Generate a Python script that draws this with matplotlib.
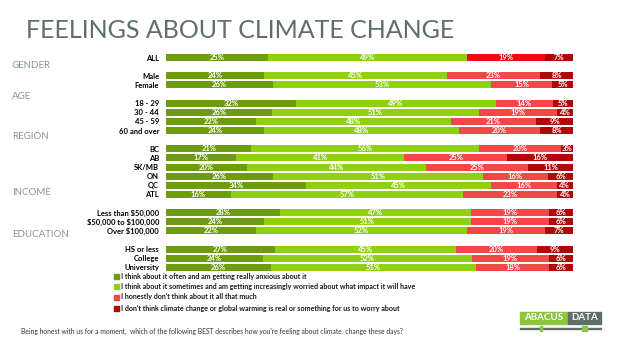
import matplotlib
matplotlib.use("Agg")
import matplotlib.pyplot as plt
from matplotlib.patches import Rectangle
import numpy as np

categories = ["ALL", "Male", "Female", "18 - 29", "30 - 44", "45 - 59", "60 and over",
              "BC", "AB", "SK/MB", "ON", "QC", "ATL",
              "Less than \\$50,000", "\\$50,000 to \\$100,000", "Over \\$100,000",
              "HS or less", "College", "University"]
positions = [0, 2, 3, 5, 6, 7, 8, 10, 11, 12, 13, 14, 15, 17, 18, 19, 21, 22, 23]
anxious = [25, 24, 26, 32, 26, 22, 24, 21, 17, 20, 26, 34, 16, 28, 24, 22, 27, 24, 26]
worried = [49, 45, 53, 49, 51, 48, 48, 56, 41, 44, 51, 45, 57, 47, 51, 52, 45, 52, 51]
not_much = [19, 23, 15, 14, 19, 21, 20, 20, 25, 25, 16, 16, 23, 19, 19, 19, 20, 19, 18]
not_real = [7, 8, 5, 5, 4, 9, 8, 3, 16, 11, 6, 4, 4, 6, 6, 7, 9, 6, 6]
groups = ["GENDER", "AGE", "REGION", "INCOME", "EDUCATION"]
group_pos = [0.9, 4.3, 8.7, 14.8, 19.4]
legend_labels = [
    "I think about it often and am getting really anxious about it",
    "I think about it sometimes and am getting increasingly worried about what impact it will have",
    "I honestly don't think about it all that much",
    "I don't think climate change or global warming is real or something for us to worry about",
]
title = "FEELINGS ABOUT CLIMATE CHANGE"
question = ("Being honest with us for a moment,  which of the following BEST describes how you're feeling about climate  change these days?")

colors = ["#6e9c10", "#8fd010", "#f44848", "#b00808"]
all_colors = ["#6e9c10", "#8fd010", "#ee0c0c", "#b00808"]

fig = plt.figure(figsize=(6.24, 3.51), dpi=100)
W, H = 624, 351
ax = fig.add_axes([166 / W, 1 - 272 / H, 407 / W, 219 / H])
series = [anxious, worried, not_much, not_real]
data = np.array(series, dtype=float)
totals = data.sum(axis=0)
norm = data / totals * 100
left = np.zeros(len(categories))
for k in range(4):
    cols = [all_colors[k] if c == "ALL" else colors[k] for c in categories]
    ax.barh(positions, norm[k], left=left, height=0.78, color=cols, edgecolor="none")
    for i, p in enumerate(positions):
        ax.text(left[i] + norm[k][i] / 2, p, f"{series[k][i]}%", ha="center", va="center",
                color="white", fontsize=5.5, family="Lato", fontweight="bold")
    left += norm[k]
ax.set_xlim(0, 100)
ax.set_ylim(23.5, -0.5)
ax.set_yticks(positions)
ax.set_yticklabels(categories, fontsize=5.5, fontweight="bold", family="Lato")
ax.tick_params(axis="y", length=0, pad=5)
ax.set_xticks([])
for s in ax.spines.values():
    s.set_visible(False)

for g, gp in zip(groups, group_pos):
    y = 1 - (53 + (gp + 0.5) * 219 / 24) / H
    fig.text(12 / W, y, g, fontsize=7, color="#8a9690", family="Lato", va="center")

fig.text(26 / W, 1 - 38 / H, title, fontsize=18, color="#5f6e69", family="Lato",
         va="baseline", ha="left")

leg_y = [276, 286, 297, 308]
for i, (lab, c) in enumerate(zip(legend_labels, colors)):
    fig.patches.append(Rectangle((114 / W, 1 - (leg_y[i] + 3) / H), 5 / W, 5 / H,
                                 transform=fig.transFigure, color=c))
    fig.text(121 / W, 1 - leg_y[i] / H, lab, fontsize=5.1, fontweight="bold",
             family="Lato", va="center", color="#1a1a1a")

fig.text(21 / W, 1 - 331 / H, question, fontsize=4.85, family="Lato", va="center",
         color="#333333")

# logo
fig.patches.append(Rectangle((520 / W, 1 - 324 / H), 48 / W, 12 / H,
                             transform=fig.transFigure, color="#8cc63f"))
fig.patches.append(Rectangle((568 / W, 1 - 324 / H), 33 / W, 12 / H,
                             transform=fig.transFigure, color="#5f6e69"))
fig.text(544 / W, 1 - 318 / H, "ABACUS", fontsize=7, fontweight="bold", color="white",
         ha="center", va="center", family="Lato")
fig.text(584.5 / W, 1 - 318 / H, "DATA", fontsize=7, fontweight="bold", color="white",
         ha="center", va="center", family="Lato")
fig.patches.append(Rectangle((520 / W, 1 - 329 / H), 81 / W, 1.2 / H,
                             transform=fig.transFigure, color="#5f6e69"))
for xm in [540, 582, 585]:
    fig.patches.append(Rectangle((xm / W, 1 - 331 / H), 1.5 / W, 5 / H,
                                 transform=fig.transFigure, color="#8cc63f"))

fig.savefig("out.png", dpi=100)
